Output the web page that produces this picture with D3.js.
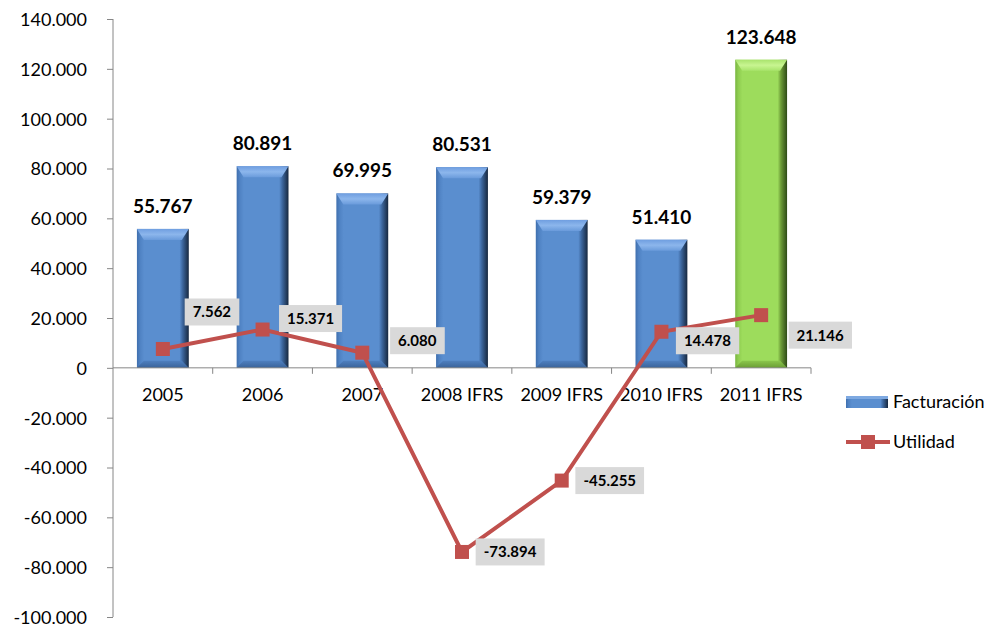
<!DOCTYPE html>
<html>
<head>
<meta charset="utf-8">
<script src="https://cdn.jsdelivr.net/npm/d3@7"></script>
<style>
  body { margin: 0; background: #fff; }
  svg { display: block; font-family: Lato, "Open Sans", sans-serif; }
  .axis path, .axis line { stroke: #868686; }
  .axis text { fill: #000; font-size: 18px; font-family: Lato, sans-serif; }
</style>
</head>
<body>
<svg width="1001" height="630"></svg>
<script>
const years = ['2005', '2006', '2007', '2008 IFRS', '2009 IFRS', '2010 IFRS', '2011 IFRS'];
const facturacion = [55767, 80891, 69995, 80531, 59379, 51410, 123648];
const utilidad = [7562, 15371, 6080, -73894, -45255, 14478, 21146];
const yTicks = [-100000, -80000, -60000, -40000, -20000, 0, 20000, 40000, 60000, 80000, 100000, 120000, 140000];
// where each Utilidad label sits relative to its marker
const labelOffsets = [[49, -37], [48, -11], [55, -12], [48, 0], [48, 0], [46, 9], [59, 20]];

// thousands with a dot, plain hyphen for negatives
const fmt = v => d3.format(',')(v).replace(/,/g, '.').replace('\u2212', '-');
const fmtTick = v => v === 0 ? '0' : fmt(v);

const $svg = d3.select('svg');
const margin = {left: 113, top: 19};
const plotW = 698, plotH = 598;

const x = d3.scaleBand()
  .domain(years)
  .range([0, plotW])
  .paddingInner(0.48)
  .paddingOuter(0.24);
const xc = d3.scaleBand().domain(years).range([0, plotW]);

const y = d3.scaleLinear()
  .domain([-100000, 140000])
  .range([plotH, 0]);

const $vis = $svg.append('g')
  .attr('transform', 'translate(' + margin.left + ',' + margin.top + ')');

// gradients for the bevelled bars
const defs = $svg.append('defs');
function hGrad(id, stops) {
  const g = defs.append('linearGradient').attr('id', id).attr('x1', 0).attr('x2', 1).attr('y1', 0).attr('y2', 0);
  stops.forEach(s => g.append('stop').attr('offset', s[0]).attr('stop-color', s[1]));
}
function vGrad(id, stops) {
  const g = defs.append('linearGradient').attr('id', id).attr('x1', 0).attr('x2', 0).attr('y1', 0).attr('y2', 1);
  stops.forEach(s => g.append('stop').attr('offset', s[0]).attr('stop-color', s[1]));
}
hGrad('blueBody', [[0, '#3f6fae'], [0.06, '#4f82c3'], [0.14, '#5a8ecf'], [0.82, '#5a8ecf'], [0.88, '#3d679e'], [1, '#17283f']]);
vGrad('blueTop', [[0, '#6f9ee0'], [0.5, '#8cb6ec'], [1, '#6a9bdb']]);
vGrad('blueBot', [[0, '#4e7fbf'], [1, '#3a6399']]);
hGrad('greenBody', [[0, '#78b540'], [0.06, '#8fcd50'], [0.14, '#9ddc5c'], [0.82, '#9ddc5c'], [0.88, '#6d9c38'], [1, '#2e4a17']]);
vGrad('greenTop', [[0, '#a9e36d'], [0.5, '#c8f591'], [1, '#a8e46b']]);
vGrad('greenBot', [[0, '#8ac64c'], [1, '#6a9d35']]);

// bars
const bw = x.bandwidth();
const bars = $vis.selectAll('.bar')
  .data(facturacion)
  .enter()
  .append('g')
  .attr('class', 'bar');

bars.each(function(d, i) {
  const g = d3.select(this);
  const c = i === years.length - 1 ? 'green' : 'blue';
  const x0 = x(years[i]), x1 = x0 + bw;
  const yt = y(d), yb = y(0);
  const bev = 11, side = 7, bot = 7;
  g.append('rect')
    .attr('x', x0).attr('y', yt).attr('width', bw).attr('height', yb - yt)
    .attr('fill', 'url(#' + c + 'Body)');
  g.append('polygon')
    .attr('points', [[x0, yt], [x1, yt], [x1 - side, yt + bev], [x0 + side, yt + bev]].join(' '))
    .attr('fill', 'url(#' + c + 'Top)');
  g.append('polygon')
    .attr('points', [[x0 + side, yb - bot], [x1 - side, yb - bot], [x1, yb], [x0, yb]].join(' '))
    .attr('fill', 'url(#' + c + 'Bot)');
});

bars.append('text')
  .attr('x', (d, i) => x(years[i]) + bw / 2)
  .attr('y', d => y(d) - 16)
  .attr('text-anchor', 'middle')
  .style('font-size', '19px')
  .style('font-weight', 'bold')
  .text(d => fmt(d));

// axes
$vis.append('g')
  .attr('class', 'axis axis--y')
  .call(d3.axisLeft(y).tickValues(yTicks).tickSize(6).tickPadding(20).tickFormat(fmtTick))
  .call(g => g.select('.domain').attr('d', 'M0,0V' + plotH))
  .call(g => g.selectAll('text').attr('dy', '0.36em'));

$vis.append('g')
  .attr('class', 'axis axis--x')
  .attr('transform', 'translate(0,' + y(0) + ')')
  .call(d3.axisBottom(xc).tickSize(0).tickPadding(20))
  .call(g => g.select('.domain').attr('d', 'M0,0H' + plotW));

$vis.select('.axis--x').selectAll('.sep')
  .data(d3.range(1, years.length + 1))
  .enter()
  .append('line')
  .attr('x1', i => xc.step() * i).attr('x2', i => xc.step() * i)
  .attr('y1', 0).attr('y2', 6)
  .attr('stroke', '#868686');

// Utilidad line
const line = d3.line()
  .x((d, i) => xc(years[i]) + xc.bandwidth() / 2)
  .y(d => y(d));

$vis.append('path')
  .datum(utilidad)
  .attr('d', line)
  .attr('fill', 'none')
  .attr('stroke', '#c0504d')
  .attr('stroke-width', 4);

$vis.selectAll('.marker')
  .data(utilidad)
  .enter()
  .append('rect')
  .attr('class', 'marker')
  .attr('x', (d, i) => xc(years[i]) + xc.bandwidth() / 2 - 7)
  .attr('y', d => y(d) - 7)
  .attr('width', 14).attr('height', 14)
  .attr('fill', '#c0504d');

const lbl = $vis.selectAll('.ulabel')
  .data(utilidad)
  .enter()
  .append('g')
  .attr('class', 'ulabel')
  .attr('transform', (d, i) => 'translate(' + (xc(years[i]) + xc.bandwidth() / 2 + labelOffsets[i][0]) + ',' + (y(d) + labelOffsets[i][1]) + ')');

lbl.append('text')
  .attr('text-anchor', 'middle')
  .attr('dy', '0.36em')
  .style('font-size', '15px')
  .style('font-weight', 'bold')
  .text(d => fmt(d));

lbl.insert('rect', 'text')
  .each(function() {
    const b = this.parentNode.querySelector('text').getBBox();
    d3.select(this)
      .attr('x', b.x - 8).attr('y', -13.5)
      .attr('width', b.width + 16).attr('height', 27)
      .attr('fill', '#d9d9d9');
  });

// legend
const $legend = $svg.append('g').attr('transform', 'translate(846,0)');
$legend.append('rect').attr('x', 0).attr('y', 396).attr('width', 42).attr('height', 12).attr('fill', 'url(#blueBody)');
$legend.append('rect').attr('x', 0).attr('y', 396).attr('width', 42).attr('height', 3).attr('fill', '#7ea9e1');
$legend.append('text').attr('x', 47).attr('y', 402).attr('dy', '0.36em').style('font-size', '18px').text('Facturación');
$legend.append('line').attr('x1', 0).attr('x2', 44).attr('y1', 442).attr('y2', 442).attr('stroke', '#c0504d').attr('stroke-width', 4);
$legend.append('rect').attr('x', 15).attr('y', 435).attr('width', 14).attr('height', 14).attr('fill', '#c0504d');
$legend.append('text').attr('x', 47).attr('y', 442).attr('dy', '0.36em').style('font-size', '18px').text('Utilidad');
</script>
</body>
</html>
